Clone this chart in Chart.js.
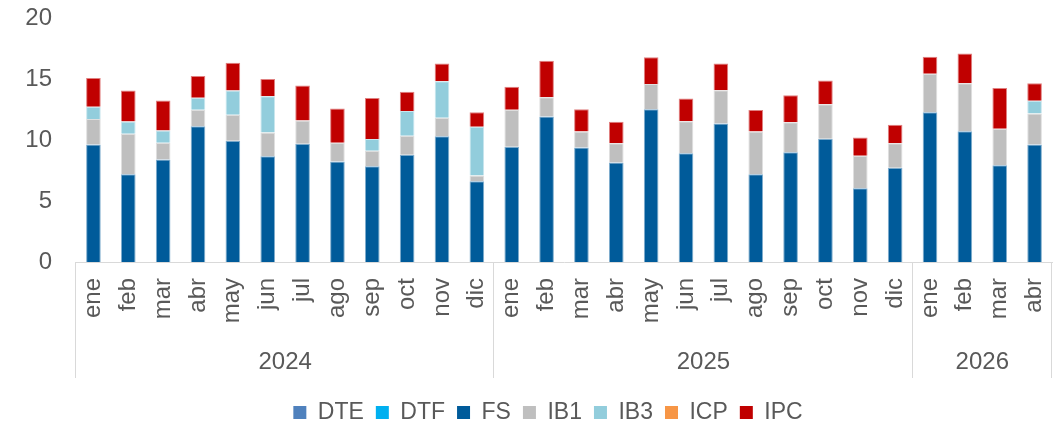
<!DOCTYPE html>
<html>
<head>
<meta charset="utf-8">
<script src="https://cdn.jsdelivr.net/npm/chart.js@4/dist/chart.umd.min.js"></script>
<style>
html,body{margin:0;padding:0;background:#fff;}
#wrap{width:1063px;height:425px;position:relative;}
</style>
</head>
<body>
<div id="wrap"><canvas id="c" width="1063" height="425"></canvas></div>
<script>
const categories = ['ene','feb','mar','abr','may','jun','jul','ago','sep','oct','nov','dic',
  'ene','feb','mar','abr','may','jun','jul','ago','sep','oct','nov','dic',
  'ene','feb','mar','abr'];
const yearLabels = ['2024','2025','2026'];
const yearSpans = [12, 12, 4];
const yTicks = [0, 5, 10, 15, 20];

const DTE = new Array(28).fill(0);
const DTF = new Array(28).fill(0);
const FS  = [9.63,7.2,8.4,11.13,9.93,8.67,9.69,8.24,7.85,8.79,10.31,6.62,
             9.44,11.93,9.39,8.16,12.52,8.92,11.35,7.2,9.0,10.1,6.05,7.72,
             12.28,10.72,7.93,9.63];
const IB1 = [2.1,3.31,1.37,1.34,2.13,1.94,1.91,1.53,1.26,1.56,1.51,0.47,
             3.03,1.58,1.31,1.58,2.08,2.62,2.73,3.5,2.46,2.84,2.66,2.02,
             3.15,3.93,3.0,2.54];
const IB3 = [1.0,1.0,1.0,1.0,2.0,2.98,0,0,0.98,2.02,3.0,3.99,
             0,0,0,0,0,0,0,0,0,0,0,0,
             0,0,0,1.04];
const ICP = new Array(28).fill(0);
const IPC = [2.35,2.54,2.46,1.78,2.27,1.42,2.87,2.81,3.36,1.59,1.45,1.2,
             1.89,2.98,1.83,1.75,2.18,1.86,2.19,1.75,2.21,1.94,1.5,1.51,
             1.39,2.43,3.33,1.44];

const seriesNames = ['DTE','DTF','FS','IB1','IB3','ICP','IPC'];
const seriesData = [DTE, DTF, FS, IB1, IB3, ICP, IPC];
const seriesColors = ['#4f81bd','#00b0f0','#005b9a','#bfbfbf','#92cddc','#f79646','#c00000'];
const seriesEdges  = ['#a7c0de','#80d8f8','#7fadcd','#dfdfdf','#c9e6ee','#fbcba3','#e08080'];

const FONT = "'Liberation Sans', Arial, sans-serif";
const TXT = '#595959';
const LINE = '#d9d9d9';

const yearPlugin = {
  id: 'years',
  afterLayout(chart) {
    chart.legend.left += 22;
    chart.legend.right += 22;
  },
  afterDraw(chart) {
    const ctx = chart.ctx;
    const x = chart.scales.x;
    const n = categories.length;
    const step = (x.right - x.left) / n;
    const top = x.top;
    const bottom = x.top + 116;
    ctx.save();
    ctx.strokeStyle = LINE;
    ctx.lineWidth = 1;
    let start = 0;
    const bounds = [x.left];
    yearSpans.forEach(s => { start += s; bounds.push(x.left + start * step); });
    bounds.forEach(b => {
      const bx = Math.round(b) - 0.5;
      ctx.beginPath();
      ctx.moveTo(bx, top);
      ctx.lineTo(bx, bottom);
      ctx.stroke();
    });
    ctx.fillStyle = TXT;
    ctx.font = '24px ' + FONT;
    ctx.textAlign = 'center';
    ctx.textBaseline = 'middle';
    yearLabels.forEach((lab, i) => {
      ctx.fillText(lab, (bounds[i] + bounds[i + 1]) / 2, top + 100);
    });
    ctx.restore();
  }
};

new Chart(document.getElementById('c'), {
  type: 'bar',
  data: {
    labels: categories,
    datasets: seriesNames.map((name, i) => ({
      label: name,
      data: seriesData[i],
      backgroundColor: seriesColors[i],
      borderColor: seriesEdges[i],
      borderWidth: 1,
      categoryPercentage: 1,
      barPercentage: 0.42
    }))
  },
  options: {
    responsive: false,
    animation: false,
    layout: { padding: { top: 0, right: 11, left: 0, bottom: -9 } },
    plugins: {
      legend: {
        position: 'bottom',
        labels: {
          boxWidth: 13, boxHeight: 13, padding: 12,
          color: TXT, font: { family: FONT, size: 23 },
          generateLabels(chart) {
            return chart.data.datasets.map((ds, i) => ({
              text: ds.label, fillStyle: seriesColors[i], strokeStyle: seriesColors[i],
              lineWidth: 0, hidden: false, datasetIndex: i, fontColor: TXT
            }));
          }
        }
      },
      tooltip: { enabled: false }
    },
    scales: {
      x: {
        stacked: true,
        grid: { display: false, drawTicks: false },
        border: { display: true, color: LINE, width: 1 },
        ticks: {
          color: TXT, font: { family: FONT, size: 24 },
          minRotation: 90, maxRotation: 90, padding: 16, autoSkip: false
        },
        afterFit(scale) { scale.height = 127; scale.paddingLeft = 0; scale.paddingRight = 0; }
      },
      y: {
        stacked: true,
        min: 0, max: 20,
        afterBuildTicks(scale) { scale.ticks = yTicks.map(v => ({ value: v })); },
        grid: { display: false, drawTicks: false },
        border: { display: false },
        ticks: { color: TXT, font: { family: FONT, size: 24 }, padding: 24 },
        afterFit(scale) { scale.width = 76; scale.paddingTop = 18; scale.paddingBottom = 0; }
      }
    }
  },
  plugins: [yearPlugin]
});
</script>
</body>
</html>
